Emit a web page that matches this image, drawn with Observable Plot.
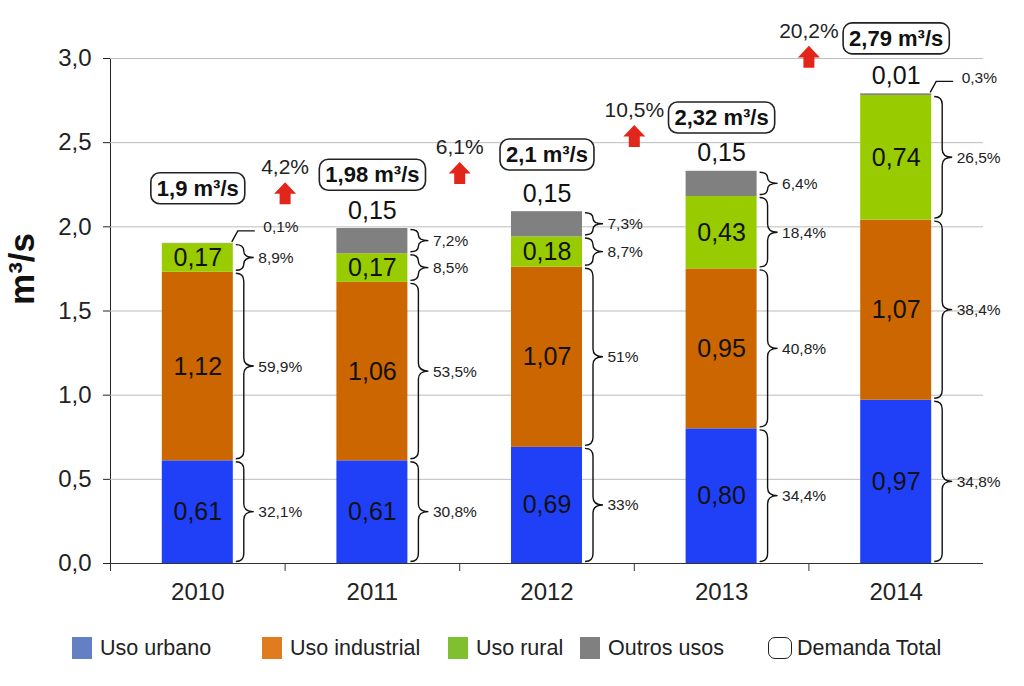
<!DOCTYPE html>
<html><head><meta charset="utf-8">
<script src="https://cdn.jsdelivr.net/npm/d3@7"></script>
<script src="https://cdn.jsdelivr.net/npm/@observablehq/plot@0.6"></script>
<style>
body{margin:0;background:#fff;font-family:"Liberation Sans",Arial,sans-serif;}
#wrap{position:relative;width:1024px;height:686px;overflow:hidden;}
#wrap svg{position:absolute;left:0;top:0;}
.item{position:absolute;top:636px;display:flex;align-items:center;font-size:21.5px;color:#222;height:24px;}
.sw{width:20px;height:22px;margin-right:8px;box-sizing:border-box;}
</style></head><body><div id="wrap"></div>
<script>
// ---- data ----
const years = [2010, 2011, 2012, 2013, 2014];
const categories = ["Uso urbano", "Uso industrial", "Uso rural", "Outros usos"];
const urbano = [0.61, 0.61, 0.69, 0.80, 0.97];
const industrial = [1.12, 1.06, 1.07, 0.95, 1.07];
const rural = [0.17, 0.17, 0.18, 0.43, 0.74];
const outros = [0.002, 0.15, 0.15, 0.15, 0.01];
const pctUrbano = ["32,1%", "30,8%", "33%", "34,4%", "34,8%"];
const pctIndustrial = ["59,9%", "53,5%", "51%", "40,8%", "38,4%"];
const pctRural = ["8,9%", "8,5%", "8,7%", "18,4%", "26,5%"];
const pctOutros = ["0,1%", "7,2%", "7,3%", "6,4%", "0,3%"];
const outrosLabels = ["", "0,15", "0,15", "0,15", "0,01"];
const totals = [1.9, 1.98, 2.1, 2.32, 2.79];
const totalLabels = ["1,9 m³/s", "1,98 m³/s", "2,1 m³/s", "2,32 m³/s", "2,79 m³/s"];
const growth = ["4,2%", "6,1%", "10,5%", "20,2%"];
const yTicks = [0, 0.5, 1, 1.5, 2, 2.5, 3];
const legendLabels = ["Uso urbano", "Uso industrial", "Uso rural", "Outros usos", "Demanda Total"];

// ---- derived tables ----
const series = [urbano, industrial, rural, outros];
const pcts = [pctUrbano, pctIndustrial, pctRural, pctOutros];
const segs = [];
years.forEach((year, i) => {
  let base = 0;
  series.forEach((s, k) => {
    const v = s[i];
    segs.push({year, k, cat: categories[k], v, y1: base, y2: base + v, pct: pcts[k][i],
      label: k < 3 ? v.toFixed(2).replace(".", ",") : outrosLabels[i]});
    base += v;
  });
});
const totalRows = years.map((year, i) => ({year, total: totals[i], label: totalLabels[i]}));
const arrows = growth.map((g, i) => ({x: years[i] + 0.5, top: Math.max(totals[i], totals[i + 1]), g}));
const bounds = years.map(y => y - 0.5);

// ---- styles ----
const barColors = ["#2040f8", "#cc6600", "#99cc00", "#808080"];
const legendColors = ["#6480c4", "#e07b20", "#80c030", "#808080"];
const HW = 0.2033; // half bar width in x units
const fmt = d => d.toFixed(1).replace(".", ",");
const TINY = 0.05;

const arrowSymbol = {
  draw(ctx, size) {
    const r = Math.sqrt(size / Math.PI);
    ctx.moveTo(0, -r);
    ctx.lineTo(r, 0.05 * r);
    ctx.lineTo(0.5 * r, 0.05 * r);
    ctx.lineTo(0.5 * r, r);
    ctx.lineTo(-0.5 * r, r);
    ctx.lineTo(-0.5 * r, 0.05 * r);
    ctx.lineTo(-r, 0.05 * r);
    ctx.closePath();
  }
};

const braces = (index, scales) => {
  const g = d3.create("svg:g").attr("fill", "none").attr("stroke", "#111").attr("stroke-width", 1.4);
  for (const d of segs) {
    const xr = scales.x(d.year + HW);
    const yt = scales.y(d.y2), yb = scales.y(d.y1);
    if (d.v < TINY) {
      const yl = yt - 12;
      g.append("path").attr("d", `M${xr - 1},${yt - 1}L${xr + 5},${yl}H${xr + 22}`);
    } else {
      const x0 = xr + 3, xm = xr + 11, xt = xr + 21;
      const top = yt + 1.5, bot = yb - 1.5, ym = (top + bot) / 2;
      const r = Math.min(8, (bot - top) / 4);
      g.append("path").attr("d",
        `M${x0},${top}Q${xm},${top} ${xm},${top + r}V${ym - r}Q${xm},${ym} ${xt},${ym}` +
        `Q${xm},${ym} ${xm},${ym + r}V${bot - r}Q${xm},${bot} ${x0},${bot}`);
    }
  }
  return g.node();
};

const chart = Plot.plot({
  width: 1024, height: 615,
  marginLeft: 110, marginRight: 41, marginTop: 58, marginBottom: 52,
  style: {fontFamily: "'Liberation Sans', Arial, sans-serif", fontSize: "24px", color: "#222", background: "white", overflow: "visible"},
  x: {type: "linear", domain: [2009.5, 2014.5], ticks: years, tickFormat: d => String(d), tickSize: 0, tickPadding: 19, label: null},
  y: {domain: [0, 3], ticks: yTicks, tickFormat: fmt, tickSize: 7, tickPadding: 12, label: null, line: true},
  color: {domain: categories, range: barColors},
  marks: [
    Plot.ruleY(yTicks.filter(d => d > 0), {stroke: "#bdbdbd", strokeWidth: 1}),
    Plot.rect(segs, {x1: d => d.year - HW, x2: d => d.year + HW, y1: "y1", y2: "y2", fill: "cat"}),
    Plot.ruleY([0], {stroke: "#333", strokeWidth: 1}),
    Plot.ruleX(bounds, {y1: 0, y2: 0, insetBottom: -8, stroke: "#333", strokeWidth: 1}),
    Plot.text(segs.filter(d => d.k < 3), {x: "year", y: d => (d.y1 + d.y2) / 2, text: "label", fontSize: 25, fill: "#111"}),
    Plot.text(segs.filter(d => d.k === 3), {x: "year", y: "y2", text: "label", dy: -18, fontSize: 25, fill: "#111"}),
    braces,
    Plot.text(segs.filter(d => d.v >= TINY), {x: d => d.year + HW, y: d => (d.y1 + d.y2) / 2, text: "pct", dx: 25, textAnchor: "start", fontSize: 15.5, fill: "#222"}),
    Plot.text(segs.filter(d => d.v < TINY), {x: d => d.year + HW, y: "y2", text: "pct", dx: 30, dy: -16, textAnchor: "start", fontSize: 15.5, fill: "#222"}),
    Plot.dot(arrows, {x: "x", y: "top", dy: -37, r: 11, symbol: arrowSymbol, fill: "#e3261b", stroke: "none"}),
    Plot.text(arrows, {x: "x", y: "top", dy: -63, text: "g", fontSize: 21, fill: "#222"}),
    Plot.text(totalRows, {x: "year", y: "total", dy: -55, text: "label", fontSize: 22, fontWeight: "bold", fill: "#111"}),
    Plot.text(["m³/s"], {frameAnchor: "left", text: d => d, textAnchor: "middle", rotate: -90, dx: -88, dy: -42, fontSize: 35, fontWeight: "bold", fill: "#111"})
  ]
});
const wrap = document.getElementById("wrap");
wrap.append(chart);

// rounded boxes behind the total labels
const totalSet = new Set(totalLabels);
Array.from(chart.querySelectorAll("text")).filter(t => totalSet.has(t.textContent)).forEach(t => {
  const b = t.getBBox();
  const r = document.createElementNS("http://www.w3.org/2000/svg", "rect");
  r.setAttribute("x", b.x - 6);
  r.setAttribute("y", b.y - 3);
  r.setAttribute("width", b.width + 12);
  r.setAttribute("height", b.height + 6);
  r.setAttribute("rx", 9);
  r.setAttribute("fill", "white");
  r.setAttribute("stroke", "#222");
  r.setAttribute("stroke-width", 1.6);
  const tr = t.getAttribute("transform");
  if (tr) r.setAttribute("transform", tr);
  t.parentNode.insertBefore(r, t);
});

// legend
const legendLeft = [72, 262, 448, 580, 768];
legendLabels.forEach((lab, i) => {
  const item = document.createElement("div");
  item.className = "item";
  item.style.left = legendLeft[i] + "px";
  const sw = document.createElement("div");
  sw.className = "sw";
  if (i < 4) sw.style.background = legendColors[i];
  else { sw.style.border = "1.6px solid #222"; sw.style.borderRadius = "7px"; sw.style.width = "24px"; sw.style.marginRight = "5px"; }
  const tx = document.createElement("span");
  tx.textContent = lab;
  item.append(sw, tx);
  wrap.append(item);
});
</script></body></html>
